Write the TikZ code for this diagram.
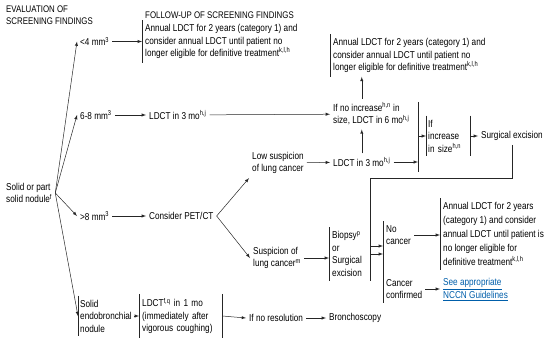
\documentclass[tikz,border=0pt]{standalone}
\usepackage{fontspec}
\setmainfont{Liberation Sans}[FakeStretch=0.82]
\usepackage{tikz}
\definecolor{nccnblue}{RGB}{0,94,170}

\begin{document}
\begin{tikzpicture}[x=1pt,y=-1pt,
	txt/.style={anchor=west,align=left,inner xsep=3pt,inner ysep=4pt,font=\fontsize{10}{12.5}\selectfont},
	head/.style={anchor=west,align=left,inner sep=0pt,font=\fontsize{9.6}{12}\selectfont},
	lne/.style={draw=black!85,line width=.5pt}]
	\useasboundingbox (0,0) rectangle (549,340);
	\node[head] (evalhd) at (6,15.5) {EVALUATION OF\\SCREENING FINDINGS};
	\node[head] (followhd) at (145,15) {FOLLOW-UP OF SCREENING FINDINGS};
	\node[txt] (nodule) at (3,193) {Solid or part\\solid nodule\textsuperscript{f}};
	\node[txt] (lt4) at (77,41.5) {<4 mm\textsuperscript{3}};
	\node[txt] (six8) at (77,115) {6-8 mm\textsuperscript{3}};
	\node[txt] (gt8) at (77,216) {>8 mm\textsuperscript{3}};
	\node[txt,inner xsep=2pt] (endo) at (78,316) {Solid\\endobronchial\\nodule};
	\node[txt] (box1) at (142,41.5) {Annual LDCT for 2 years (category 1) and\\consider annual LDCT until patient no\\longer eligible for definitive treatment\textsuperscript{k,l,h}};
	\node[txt] (ldct3a) at (146,115) {LDCT in 3 mo\textsuperscript{h,j}};
	\node[txt] (pet) at (146,216) {Consider PET/CT};
	\node[txt] (box2) at (330,55.5) {Annual LDCT for 2 years (category 1) and\\consider annual LDCT until patient no\\longer eligible for definitive treatment\textsuperscript{k,l,h}};
	\node[txt] (noinc) at (330,114) {If no increase\textsuperscript{h,n} in\\size, LDCT in 6 mo\textsuperscript{h,j}};
	\node[txt] (low) at (249,163) {Low suspicion\\of lung cancer};
	\node[txt] (ldct3b) at (330,162) {LDCT in 3 mo\textsuperscript{h,j}};
	\node[minimum height=70pt,inner sep=0pt] (coll) at (418,137) {};
	\node[txt,inner xsep=2pt,text width=40pt] (incsize) at (426,136) {If\\increase\\in size\textsuperscript{h,n}};
	\node[txt] (surg) at (478,136) {Surgical excision};
	\node[txt] (susp) at (250,258) {Suspicion of\\lung cancer\textsuperscript{m}};
	\node[txt,text width=35pt] (biopsy) at (329,254) {Biopsy\textsuperscript{p}\\or\\Surgical\\excision};
	\node[txt] (nocancer) at (383,235) {No\\cancer};
	\node[txt] (cancer) at (383,289) {Cancer\\confirmed};
	\node[txt,font=\fontsize{10}{14}\selectfont] (box3) at (440,234) {Annual LDCT for 2 years\\(category 1) and consider\\annual LDCT until patient is\\no longer eligible for\\definitive treatment\textsuperscript{k,l,h}};
	\node[txt,text=nccnblue] (link) at (440,289.5) {\underline{See appropriate}\\\underline{NCCN Guidelines}};
	\node[txt,text width=77pt] (ldct1) at (139,316) {LDCT\textsuperscript{f,q} in 1 mo\\(immediately after\\vigorous coughing)};
	\node[txt] (noresol) at (246,318) {If no resolution};
	\node[txt] (bronch) at (326,318) {Bronchoscopy};
	\coordinate (turn) at (370,178);
	\coordinate (surgdrop) at (370,246);
	\foreach \b in {box1,box2,box3,incsize,biopsy,ldct1,endo}
	\draw[lne] (\b.north west) -- (\b.south west);
	\foreach \b in {incsize,biopsy,ldct1}
	\draw[lne] (\b.north east) -- (\b.south east);
	\draw[lne] (nocancer.north west) -- (cancer.south west);
	\draw[lne] (coll.north) -- (coll.south);
	\foreach \b in {lt4,six8,gt8,endo}
	\draw[lne,-latex] (nodule.east) -- (\b.west);
	\draw[lne,-latex] (lt4) -- (box1);
	\draw[lne,-latex] (six8) -- (ldct3a);
	\draw[lne,-latex] (gt8) -- (pet);
	\draw[lne,-latex] (ldct3a) -- (noinc);
	\draw[lne,-latex] (pet.east) -- (low.south west);
	\draw[lne,-latex] (pet.east) -- (susp.west);
	\draw[lne,-latex] (low) -- (ldct3b);
	\draw[lne,-latex] (ldct3b.north) -- (ldct3b.north |- noinc.south);
	\draw[lne,-latex] (noinc.north -| ldct3b.north) -- (box2.south -| ldct3b.north);
	\draw[lne,-latex] (ldct3b.east) -- (ldct3b.east -| coll.south);
	\draw[lne,-latex] (incsize.west -| coll.south) -- (incsize.west);
	\draw[lne,-latex] (incsize.east) -- (surg.west);
	\draw[lne,-latex] (surg.south) |- (turn) -- (surgdrop) -- (surgdrop -| nocancer.west);
	\draw[lne,-latex] (susp.east) -- (susp.east -| biopsy.west);
	\draw[lne,-latex] (biopsy.east) -- (biopsy.east -| nocancer.west);
	\draw[lne,-latex] (nocancer.east) -- (nocancer.east -| box3.west);
	\draw[lne,-latex] (cancer.east) -- (cancer.east -| link.west);
	\draw[lne,-latex] (endo.east) -- (ldct1.west);
	\draw[lne,-latex] (ldct1.east) -- (noresol.west);
	\draw[lne,-latex] (noresol) -- (bronch);
\end{tikzpicture}
\end{document}
